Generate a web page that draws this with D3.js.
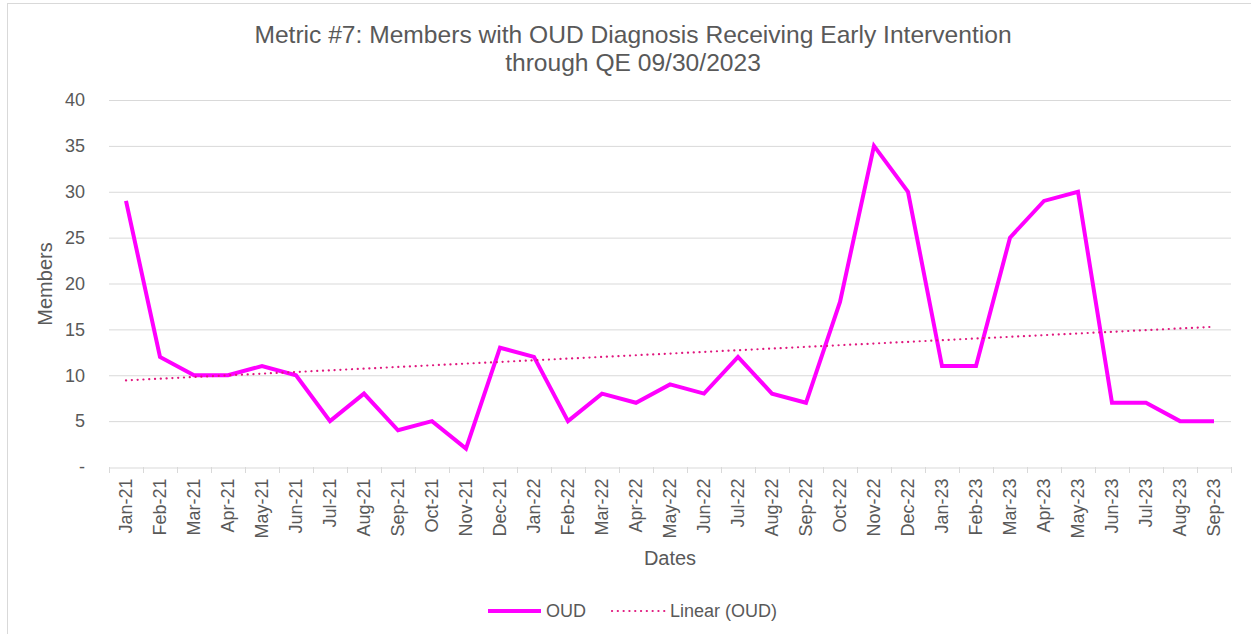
<!DOCTYPE html>
<html><head><meta charset="utf-8">
<script src="https://cdn.jsdelivr.net/npm/d3@7"></script>
<style>body{margin:0;background:#fff;font-family:"Liberation Sans",Arial,sans-serif;}</style>
</head><body><svg id="c" width="1251" height="634"></svg>
<script>
const categories = ["Jan-21","Feb-21","Mar-21","Apr-21","May-21","Jun-21","Jul-21","Aug-21","Sep-21","Oct-21","Nov-21","Dec-21",
"Jan-22","Feb-22","Mar-22","Apr-22","May-22","Jun-22","Jul-22","Aug-22","Sep-22","Oct-22","Nov-22","Dec-22",
"Jan-23","Feb-23","Mar-23","Apr-23","May-23","Jun-23","Jul-23","Aug-23","Sep-23"];
const oud = [29,12,10,10,11,10,5,8,4,5,2,13,12,5,8,7,9,8,12,8,7,18,35,30,11,11,25,29,30,7,7,5,5];
const yTicks = [0,5,10,15,20,25,30,35,40];

const svg = d3.select("#c");
const txt = "#595959";
const FF = "Liberation Sans, Arial, sans-serif";
const L = 109, R = 1231, T = 100, B = 467;
svg.append("rect").attr("x",7.5).attr("y",3.5).attr("width",1260).attr("height",640)
  .attr("fill","#fff").attr("stroke","#d9d9d9");

const x = d3.scaleBand().domain(categories).range([L,R]);
const y = d3.scaleLinear().domain([0,40]).range([B,T]);

// gridlines
svg.append("g").selectAll("line").data(yTicks.filter(d=>d>0)).join("line")
  .attr("x1",L).attr("x2",R).attr("y1",d=>y(d)+0.5).attr("y2",d=>y(d)+0.5)
  .attr("stroke","#d9d9d9").attr("stroke-width",1);

// y axis
const ya = svg.append("g").attr("transform",`translate(${L-21},0)`)
  .call(d3.axisLeft(y).tickValues(yTicks).tickSize(0).tickFormat(d=>d===0?"-":d));
ya.select(".domain").remove();
ya.selectAll("text").attr("fill",txt).attr("font-size",18).attr("font-family",FF);

// x axis
const xa = svg.append("g").attr("transform",`translate(0,${B+0.5})`)
  .call(d3.axisBottom(x).tickSize(0));
xa.select(".domain").attr("stroke","#d9d9d9");
xa.selectAll("text").attr("fill",txt).attr("font-size",18).attr("font-family",FF)
  .attr("transform","rotate(-90)").attr("text-anchor","end").attr("x",-11).attr("y",0).attr("dy","0.35em");
// category boundary ticks
const bounds = categories.map(c=>x(c)).concat([R]);
svg.append("g").selectAll("line").data(bounds).join("line")
  .attr("x1",d=>Math.round(d)+0.5).attr("x2",d=>Math.round(d)+0.5).attr("y1",B).attr("y2",B+6)
  .attr("stroke","#d9d9d9");

const cx = c => x(c)+x.bandwidth()/2;

// trendline (least squares on data)
const n = oud.length, idx = d3.range(1,n+1);
const mx = d3.mean(idx), my = d3.mean(oud);
const slope = d3.sum(idx,(i,k)=>(i-mx)*(oud[k]-my))/d3.sum(idx,i=>(i-mx)**2);
const icpt = my - slope*mx;
const trend = idx.map(i=>icpt+slope*i);

const line = d3.line().x((d,i)=>cx(categories[i])).y(d=>y(d));
svg.append("path").datum(oud).attr("d",line).attr("fill","none")
  .attr("stroke","#FF00FF").attr("stroke-width",4).attr("stroke-linejoin","miter");
svg.append("path").datum(trend).attr("d",line).attr("fill","none")
  .attr("stroke","#E0177E").attr("stroke-width",2.2).attr("stroke-dasharray","0.1 5.7").attr("stroke-linecap","round");

// title
const title = svg.append("text").attr("x",633).attr("y",43).attr("text-anchor","middle")
  .attr("fill",txt).attr("font-size",24.6);
title.append("tspan").attr("x",633).text("Metric #7: Members with OUD Diagnosis Receiving Early Intervention");
title.append("tspan").attr("x",633).attr("dy",28).text("through QE 09/30/2023");

// axis titles
svg.append("text").attr("transform","translate(52,284) rotate(-90)").attr("text-anchor","middle")
  .attr("fill",txt).attr("font-size",20).text("Members");
svg.append("text").attr("x",670).attr("y",565).attr("text-anchor","middle")
  .attr("fill",txt).attr("font-size",20).text("Dates");

// legend
const lg = svg.append("g");
lg.append("line").attr("x1",488).attr("x2",541).attr("y1",611).attr("y2",611)
  .attr("stroke","#FF00FF").attr("stroke-width",4);
lg.append("text").attr("x",546).attr("y",617).attr("fill",txt).attr("font-size",18).text("OUD");
lg.append("line").attr("x1",612).attr("x2",665).attr("y1",611).attr("y2",611)
  .attr("stroke","#E0177E").attr("stroke-width",2.2).attr("stroke-dasharray","0.1 5.7").attr("stroke-linecap","round");
lg.append("text").attr("x",670).attr("y",617).attr("fill",txt).attr("font-size",18).text("Linear (OUD)");
</script></body></html>
